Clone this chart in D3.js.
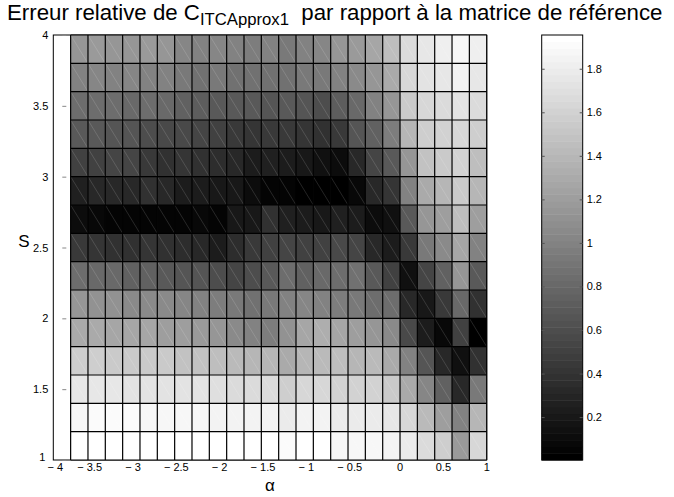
<!DOCTYPE html>
<html>
<head>
<meta charset="utf-8">
<script src="https://cdn.jsdelivr.net/npm/d3@7"></script>
<style>
  html, body { margin: 0; padding: 0; background: #fff; }
  svg { display: block; font-family: "Liberation Sans", Arial, Helvetica, sans-serif; }
</style>
</head>
<body>
<svg id="chart" width="674" height="497"></svg>
<script>
// Cell edges of the pcolor grid
const alphaEdges = d3.range(25).map(i => +(-3.8 + 0.2 * i).toFixed(2));
const sEdges = d3.range(16).map(i => +(1 + 0.2 * i).toFixed(2));

// Relative error, one row per S band, from S = 4 (top) down to S = 1 (bottom);
// each row runs over alpha from -3.8 to 1
const errRows = [
  [1.15,1.19,1.15,1.15,1.19,1.15,1.03,0.99,1.03,0.99,0.96,0.99,0.92,0.99,1.03,1.15,1.19,1.26,1.45,1.68,1.77,1.81,1.87,1.81],
  [0.99,1.03,0.99,1.03,0.99,0.99,0.92,0.88,0.92,0.88,0.88,0.88,0.88,0.92,0.92,0.99,1.07,1.15,1.30,1.64,1.72,1.76,1.84,1.76],
  [0.84,0.84,0.84,0.80,0.84,0.80,0.76,0.73,0.69,0.69,0.69,0.65,0.69,0.65,0.61,0.73,0.80,0.99,1.15,1.53,1.64,1.68,1.72,1.68],
  [0.69,0.69,0.65,0.65,0.61,0.57,0.57,0.54,0.50,0.46,0.42,0.46,0.46,0.42,0.38,0.46,0.65,0.76,0.96,1.38,1.57,1.61,1.64,1.57],
  [0.50,0.50,0.54,0.54,0.46,0.38,0.42,0.38,0.34,0.31,0.23,0.27,0.23,0.19,0.15,0.11,0.31,0.54,0.69,1.15,1.49,1.53,1.61,1.45],
  [0.27,0.31,0.31,0.31,0.38,0.31,0.23,0.23,0.19,0.19,0.11,0.04,0.04,0.02,0.02,0.02,0.08,0.31,0.42,0.99,1.30,1.38,1.53,1.38],
  [0.11,0.09,0.06,0.04,0.04,0.06,0.06,0.08,0.06,0.19,0.19,0.38,0.27,0.23,0.19,0.27,0.23,0.11,0.15,0.69,1.15,1.22,1.45,1.22],
  [0.46,0.42,0.38,0.38,0.42,0.38,0.34,0.31,0.23,0.34,0.46,0.50,0.54,0.50,0.50,0.57,0.54,0.31,0.23,0.46,0.92,1.07,1.26,0.99],
  [0.84,0.80,0.80,0.76,0.76,0.69,0.65,0.65,0.61,0.54,0.61,0.69,0.84,0.76,0.80,0.84,0.88,0.69,0.50,0.15,0.54,0.76,1.15,0.69],
  [1.15,1.11,1.11,1.07,1.07,1.07,1.03,0.99,0.96,0.92,0.88,0.92,0.99,1.03,0.99,0.96,0.92,0.84,0.84,0.31,0.19,0.46,0.80,0.38],
  [1.30,1.30,1.26,1.26,1.26,1.22,1.22,1.19,1.15,1.07,0.99,0.96,1.11,1.26,1.34,1.26,1.22,1.15,1.07,0.57,0.23,0.08,0.50,0.01],
  [1.57,1.57,1.53,1.53,1.53,1.53,1.49,1.49,1.45,1.41,1.38,1.38,1.30,1.38,1.41,1.45,1.38,1.41,1.30,0.99,0.65,0.31,0.15,0.38],
  [1.76,1.76,1.76,1.74,1.74,1.74,1.72,1.72,1.70,1.68,1.67,1.68,1.57,1.64,1.64,1.61,1.61,1.61,1.53,1.30,1.03,0.76,0.31,0.92],
  [1.87,1.90,1.90,1.90,1.87,1.87,1.87,1.87,1.86,1.86,1.84,1.84,1.80,1.84,1.84,1.80,1.80,1.80,1.76,1.64,1.41,1.22,0.99,1.38],
  [1.95,1.95,1.95,1.95,1.95,1.95,1.95,1.95,1.93,1.93,1.93,1.93,1.91,1.95,1.95,1.87,1.87,1.87,1.84,1.80,1.68,1.57,1.19,1.64]
];

const alphaTicks = [-4, -3.5, -3, -2.5, -2, -1.5, -1, -0.5, 0, 0.5, 1];
const sTicks = [1, 1.5, 2, 2.5, 3, 3.5, 4];
const colorTicks = [0.2, 0.4, 0.6, 0.8, 1, 1.2, 1.4, 1.6, 1.8];
const colorLimits = [0.003, 1.955];
const nColors = 64;

const svg = d3.select("#chart");
const plot = { left: 53.3, right: 486.7, top: 35, bottom: 460 };
const cbar = { left: 541.7, right: 582.7, top: 35, bottom: 460 };
const tickFont = 11;

const x = d3.scaleLinear().domain([-4, 1]).range([plot.left, plot.right]);
const y = d3.scaleLinear().domain([1, 4]).range([plot.bottom, plot.top]);

// MATLAB-like gray(64) colormap with direct scaling
const level = v => {
  const t = (v - colorLimits[0]) / (colorLimits[1] - colorLimits[0]);
  return Math.max(0, Math.min(nColors - 1, Math.floor(t * nColors)));
};
const grayOf = i => { const g = Math.round(255 * i / (nColors - 1)); return `rgb(${g},${g},${g})`; };

// Axes box (drawn under the cells)
const axesG = svg.append("g");
axesG.append("rect")
  .attr("x", plot.left).attr("y", plot.top)
  .attr("width", plot.right - plot.left).attr("height", plot.bottom - plot.top)
  .attr("fill", "#fff").attr("stroke", "#000").attr("stroke-width", 1);

// S ticks: only their inner ends show beside the first column
const yAxis = d3.axisLeft(y).tickValues(sTicks).tickSize(-4).tickFormat("");
axesG.append("g").attr("transform", `translate(${plot.left + 13},0)`).call(yAxis)
  .call(g => g.select(".domain").remove())
  .call(g => g.selectAll("line").attr("stroke", "#888").attr("x1", -4).attr("x2", 0));

// Cells
const cells = [];
errRows.forEach((row, r) => {
  row.forEach((v, c) => {
    cells.push({ a0: alphaEdges[c], a1: alphaEdges[c + 1], s0: sEdges[14 - r], s1: sEdges[15 - r], v });
  });
});
const cellG = svg.append("g");
cellG.selectAll("rect").data(cells).join("rect")
  .attr("x", d => x(d.a0)).attr("y", d => y(d.s1))
  .attr("width", d => x(d.a1) - x(d.a0)).attr("height", d => y(d.s0) - y(d.s1))
  .attr("fill", d => grayOf(level(d.v)))
  .attr("stroke", "none");
// faint seams between the two triangles of each facet
cellG.selectAll("line.seam").data(cells).join("line").attr("class", "seam")
  .attr("x1", d => x(d.a0)).attr("y1", d => y(d.s1))
  .attr("x2", d => x(d.a1)).attr("y2", d => y(d.s0))
  .attr("stroke", "#fff").attr("stroke-opacity", 0.18).attr("stroke-width", 0.8);
// black facet edges
cellG.selectAll("line.vedge").data(alphaEdges).join("line").attr("class", "vedge")
  .attr("x1", d => x(d)).attr("x2", d => x(d))
  .attr("y1", y(4)).attr("y2", y(1))
  .attr("stroke", "#000").attr("stroke-width", 1.2);
cellG.selectAll("line.hedge").data(sEdges).join("line").attr("class", "hedge")
  .attr("y1", d => y(d)).attr("y2", d => y(d))
  .attr("x1", x(alphaEdges[0])).attr("x2", x(1))
  .attr("stroke", "#000").attr("stroke-width", 1.2);

// Tick labels
const labelG = svg.append("g").attr("font-size", tickFont).attr("fill", "#000");
const fmtNum = v => (v < 0 ? "\u2212 " + Math.abs(v) : String(v));
// negative labels sit a little left of their tick; the corner one is kept clear of the S label
const xShift = v => (v === -4 ? 2 : v < 0 ? -7 : 0);
labelG.selectAll("text.xt").data(alphaTicks).join("text").attr("class", "xt")
  .attr("x", d => x(d) + xShift(d)).attr("y", plot.bottom + 10.5)
  .attr("text-anchor", "middle").text(fmtNum);
labelG.selectAll("text.yt").data(sTicks).join("text").attr("class", "yt")
  .attr("x", d => plot.left - (d === 1 ? 8 : 5)).attr("y", d => y(d) + 4 - (d === 1 ? 3 : 0))
  .attr("text-anchor", "end").text(d => String(d));

// Axis labels
svg.append("text").attr("x", 270).attr("y", 491).attr("text-anchor", "middle")
  .attr("font-size", 17).text("α");
svg.append("text").attr("x", 24).attr("y", 247).attr("text-anchor", "middle")
  .attr("font-size", 17).text("S");

// Title with subscript
const title = svg.append("text").attr("x", 7).attr("y", 20).attr("font-size", 20);
title.append("tspan").text("Erreur relative de C");
title.append("tspan").attr("dy", 5).attr("font-size", "0.75em").text("ITCApprox1");
title.append("tspan").attr("dy", -5).text("\u00a0 par rapport à la matrice de référence");
// fit the title to its span
const tw = title.node().getComputedTextLength();
title.attr("font-size", 20 * 656 / tw);

// Colorbar
const cy = d3.scaleLinear().domain(colorLimits).range([cbar.bottom, cbar.top]);
const bands = d3.range(nColors);
const bandH = (cbar.bottom - cbar.top) / nColors;
const cbG = svg.append("g");
cbG.selectAll("rect.band").data(bands).join("rect").attr("class", "band")
  .attr("x", cbar.left).attr("width", cbar.right - cbar.left)
  .attr("y", d => cbar.bottom - (d + 1) * bandH).attr("height", bandH + 0.5)
  .attr("fill", d => grayOf(d));
cbG.append("rect").attr("x", cbar.left).attr("y", cbar.top)
  .attr("width", cbar.right - cbar.left).attr("height", cbar.bottom - cbar.top)
  .attr("fill", "none").attr("stroke", "#000").attr("stroke-width", 1);
const cbAxisR = d3.axisRight(cy).tickValues(colorTicks).tickSize(-3).tickFormat("");
const cbAxisL = d3.axisLeft(cy).tickValues(colorTicks).tickSize(-3).tickFormat("");
cbG.append("g").attr("transform", `translate(${cbar.right},0)`).call(cbAxisR)
  .call(g => g.select(".domain").remove()).selectAll("line").attr("stroke", "#555");
cbG.append("g").attr("transform", `translate(${cbar.left},0)`).call(cbAxisL)
  .call(g => g.select(".domain").remove()).selectAll("line").attr("stroke", "#555");
cbG.selectAll("text.ct").data(colorTicks).join("text").attr("class", "ct")
  .attr("x", cbar.right + 4).attr("y", d => cy(d) + 4)
  .attr("font-size", tickFont).text(d => String(d));
</script>
</body>
</html>
